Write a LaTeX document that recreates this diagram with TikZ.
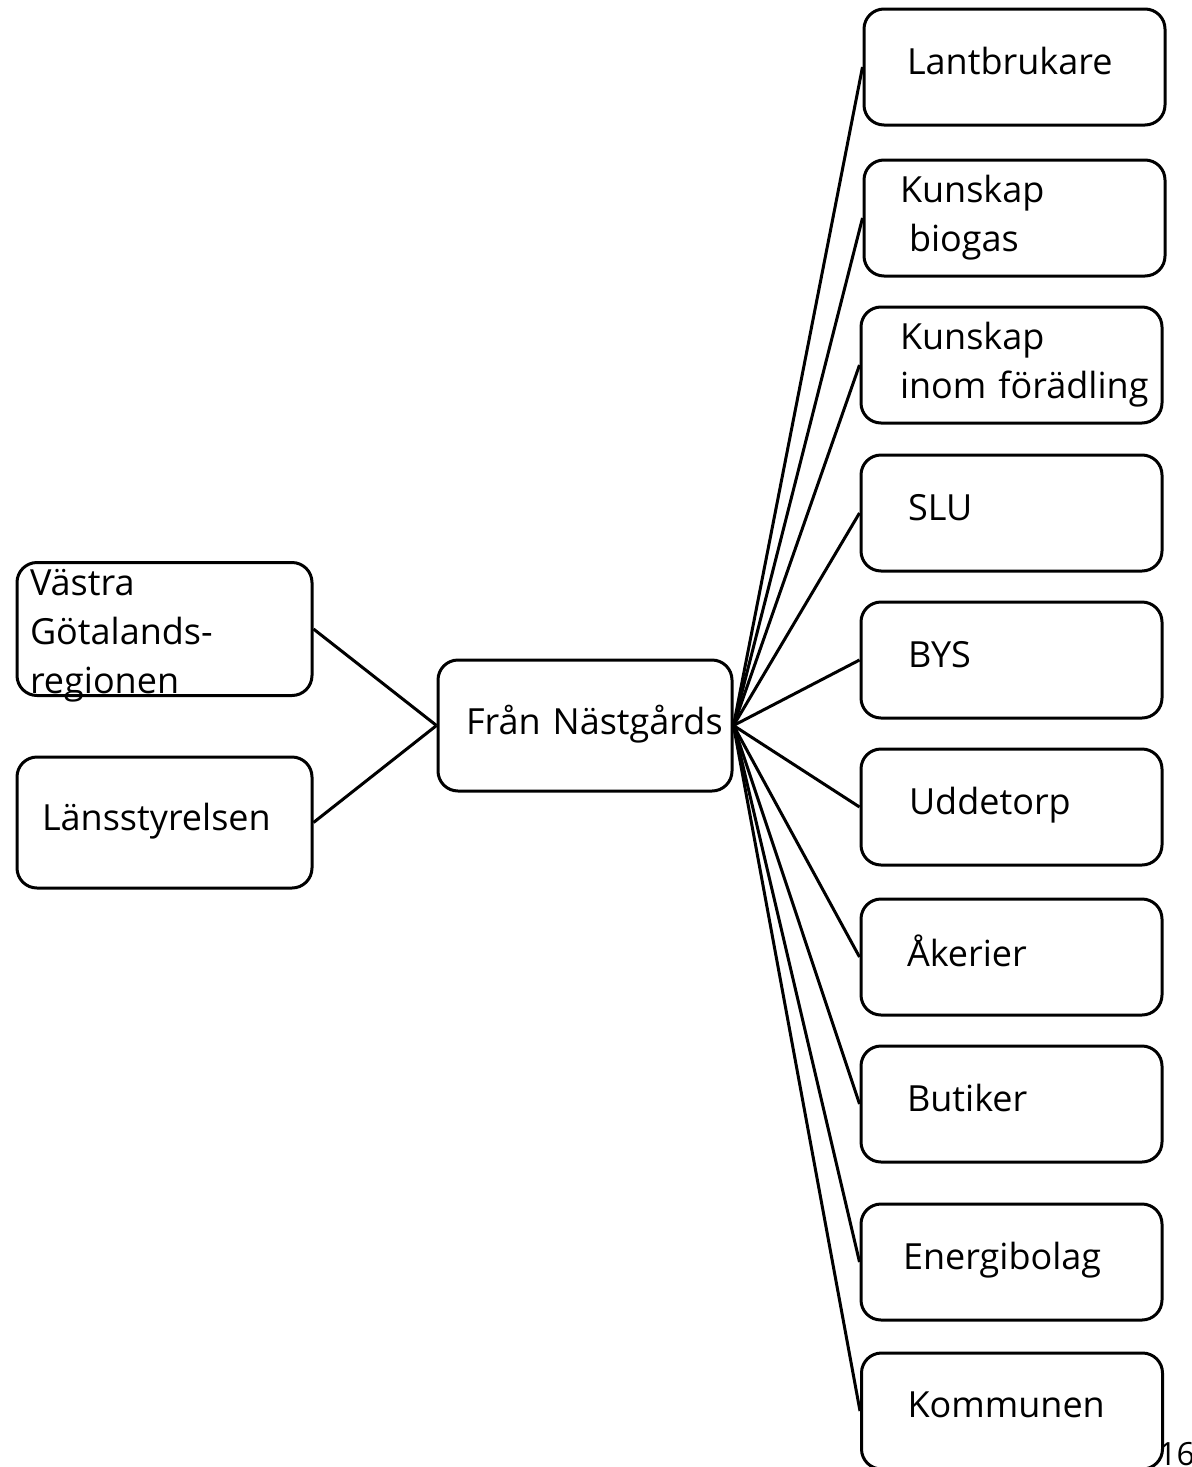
\documentclass[tikz,border=0pt]{standalone}
\usepackage{fontspec}
\setmainfont{Open Sans}
\tikzset {
    box/.style = {
        draw,
        line width = 1.5pt,
        rounded corners = 10pt,
        minimum height = 58pt,
        inner ysep = 0pt,
        text depth = 6pt,
        align = left,
        font = \fontsize{18}{24.5}\selectfont
    },
    multi/.style = {text depth = {}},
    %
    pad/.code 2 args = {
        \pgfmathsetmacro\padwidth{#1 - 2*#2}
        \tikzset{
            minimum width = #1pt,
            inner xsep = #2pt,
            text width/.expanded = \padwidth pt
        }
    },
    link/.style = {line width = 1.5pt},
    pagenumber/.style = {anchor = north west, inner sep = 0pt, font = \fontsize{16}{16}\selectfont}
}

\begin{document}
\begin{tikzpicture}[x = 0.5pt, y = -0.5pt]
    \useasboundingbox (0, 0) rectangle (1192, 1467);
    % left side
    \node (vgr) [box, pad = {147.5}{6.5}, minimum height = 66.5pt, text depth = 47pt] at (164.5, 629)
        {V\"astra\\ G\"otalands-\\regionen};
    \node (lans) [box, pad = {147.5}{12.5}, minimum height = 65.5pt] at (164.5, 822.5)
        {L\"ansstyrelsen};
    % centre
    \node (hub) [box, pad = {147}{14}, minimum height = 65.5pt] at (585, 725.5)
        {\mbox{Fr\aa n N\"astg\aa rds}};
    % right side
    \node (lant) [box, pad = {150.5}{21.5}] at (1014.5, 67) {Lantbrukare};
    \node (biogas) [box, multi, pad = {150.5}{18}] at (1014.5, 218)
        {Kunskap\\ \hspace*{4.5pt}biogas};
    \node (foradl) [box, multi, pad = {150.5}{19.5}] at (1011.5, 365)
        {Kunskap\\ \mbox{inom f\"or\"adling}};
    \node (slu) [box, pad = {150.5}{23.5}] at (1011.5, 513) {SLU};
    \node (bys) [box, pad = {150.5}{23.5}] at (1011.5, 660) {BYS};
    \node (udde) [box, pad = {150.5}{24}] at (1011.5, 807) {Uddetorp};
    \node (aker) [box, pad = {150.5}{23}] at (1011.5, 957) {\AA kerier};
    \node (butik) [box, pad = {150.5}{23}] at (1011.5, 1104) {Butiker};
    \node (energi) [box, pad = {150.5}{21}] at (1011.5, 1262) {Energibolag};
    \node (kommun) [box, pad = {150.5}{23}] at (1012, 1411) {Kommunen};
    \node (pagenum) [pagenumber] at (1158, 1442) {16};
    % links
    \draw [link] (vgr.east) -- (hub.west);
    \draw [link] (lans.east) -- (hub.west);
    \draw [link] (hub.east) -- (lant.west);
    \draw [link] (hub.east) -- (biogas.west);
    \draw [link] (hub.east) -- (foradl.west);
    \draw [link] (hub.east) -- (slu.west);
    \draw [link] (hub.east) -- (bys.west);
    \draw [link] (hub.east) -- (udde.west);
    \draw [link] (hub.east) -- (aker.west);
    \draw [link] (hub.east) -- (butik.west);
    \draw [link] (hub.east) -- (energi.west);
    \draw [link] (hub.east) -- (kommun.west);
\end{tikzpicture}
\end{document}
